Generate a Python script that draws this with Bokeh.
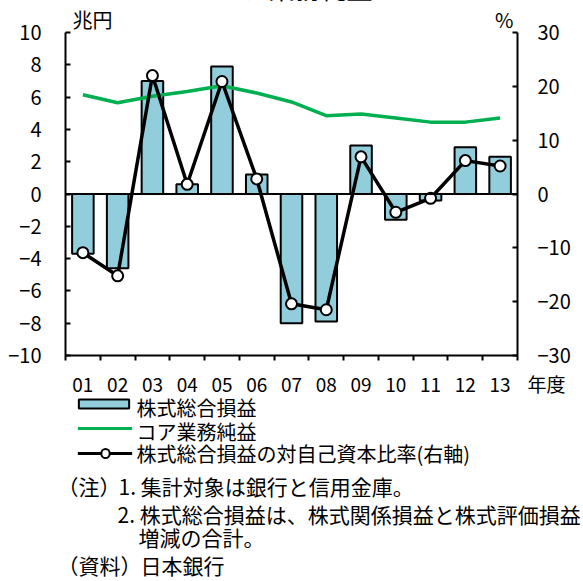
from bokeh.plotting import figure
from bokeh.models import (Range1d, LinearAxis, FixedTicker, Span, Label)
from bokeh.embed import file_html
from bokeh.resources import INLINE

# ---- data ----
years = ["01", "02", "03", "04", "05", "06", "07", "08", "09", "10", "11", "12", "13"]
stock_pl = [-3.7, -4.6, 7.0, 0.6, 7.9, 1.2, -8.0, -7.9, 3.0, -1.6, -0.4, 2.9, 2.3]      # 兆円
core_profit = [6.15, 5.65, 6.05, 6.35, 6.7, 6.25, 5.7, 4.85, 4.95, 4.7, 4.45, 4.45, 4.7]  # 兆円
ratio_pct = [-10.9, -15.2, 22.0, 1.8, 20.9, 2.8, -20.4, -21.5, 6.9, -3.4, -0.8, 6.2, 5.2]  # %
left_ticks = [-10, -8, -6, -4, -2, 0, 2, 4, 6, 8, 10]
right_ticks = [-30, -20, -10, 0, 10, 20, 30]
legend_labels = ["株式総合損益", "コア業務純益", "株式総合損益の対自己資本比率(右軸)"]

FONT = "Noto Sans CJK JP"
BAR_COLOR = "#92CDDC"
GREEN = "#00B050"

n = len(years)
xc = [i + 0.5 for i in range(n)]

W, H = 583, 581
FL, FT, FW, FH = 65, 32, 452, 323  # frame in figure px

p = figure(width=W, height=H, output_backend="svg", toolbar_location=None,
           x_range=Range1d(0, n), y_range=Range1d(-10, 10),
           frame_width=FW, frame_height=FH,
           min_border_left=FL, min_border_top=FT,
           min_border_right=W - FL - FW, min_border_bottom=H - FT - FH)
p.outline_line_color = None
p.xgrid.visible = False
p.ygrid.visible = False
p.extra_y_ranges = {"pct": Range1d(-30, 30)}

def dx(px):
    return (px - FL) / FW * n

def dy(py):
    return 10 - (py - FT) / FH * 20

def minus(v):
    return str(v).replace("-", "\u2212")

ya = p.yaxis[0]
ya.ticker = FixedTicker(ticks=left_ticks)
ya.major_label_overrides = {t: minus(t) for t in left_ticks}
ya.major_tick_in = 5
ya.major_tick_out = 0
ya.minor_tick_line_color = None
ya.axis_line_width = 2
ya.major_tick_line_width = 2
ya.major_label_standoff = 24
ya.major_label_text_font = FONT
ya.major_label_text_font_size = "20px"
ya.major_label_text_color = "black"

ra = LinearAxis(y_range_name="pct", ticker=FixedTicker(ticks=right_ticks))
ra.major_label_overrides = {t: minus(t) for t in right_ticks}
ra.major_tick_in = 5
ra.major_tick_out = 0
ra.minor_tick_line_color = None
ra.axis_line_width = 2
ra.major_tick_line_width = 2
ra.major_label_standoff = 20
ra.major_label_text_font = FONT
ra.major_label_text_font_size = "20px"
ra.major_label_text_color = "black"
p.add_layout(ra, "right")

xa = p.xaxis[0]
xa.ticker = FixedTicker(ticks=list(range(n + 1)))
xa.major_tick_in = 0
xa.major_tick_out = 5
xa.minor_tick_line_color = None
xa.axis_line_width = 2
xa.major_tick_line_width = 2
xa.major_label_text_font_size = "0px"
xa.major_label_standoff = 0

xb = LinearAxis(ticker=FixedTicker(ticks=xc))
xb.major_label_overrides = {c: y for c, y in zip(xc, years)}
xb.axis_line_color = None
xb.major_tick_line_color = None
xb.minor_tick_line_color = None
xb.major_tick_in = 0
xb.major_tick_out = 0
xb.major_label_standoff = 17
xb.major_label_text_font = FONT
xb.major_label_text_font_size = "19px"
xb.major_label_text_color = "black"
p.add_layout(xb, "below")

p.add_layout(Span(location=0, dimension="width", line_color="black", line_width=2))

bars = p.vbar(x=xc, top=stock_pl, bottom=0, width=0.62, fill_color=BAR_COLOR,
              line_color="black", line_width=2)
gl = p.line(x=xc, y=core_profit, line_color=GREEN, line_width=3.5)
bl = p.line(x=xc, y=ratio_pct, y_range_name="pct", line_color="black", line_width=3.5)
bm = p.scatter(x=xc, y=ratio_pct, y_range_name="pct", size=11, fill_color="white",
               line_color="black", line_width=2)

# annotations placed in a side panel are not clipped to the frame
def add_text(t, px, py, size="21px", align="left"):
    p.add_layout(Label(x=dx(px), y=dy(py), text=t, text_font=FONT,
                       text_font_size=size, text_align=align,
                       text_baseline="middle", text_color="black"), "right")

def add_key(cx, cy, pad, fill, line_color=None, line_width=0, radius=0):
    p.add_layout(Label(x=dx(cx), y=dy(cy), text=" ", text_font_size="1px",
                       text_align="center", text_baseline="middle",
                       padding=pad, background_fill_color=fill,
                       border_line_color=line_color, border_line_width=line_width,
                       border_radius=radius), "right")

# legend keys (padding = (horizontal, vertical))
add_key(103.5, 403.5, (25, 4), BAR_COLOR, "black", 2)
add_key(104.5, 428, (27, 1), GREEN)
add_key(104.5, 453, (27, 1), "black")
add_key(105, 453, (4, 4), "white", "black", 2, 6)

add_text(legend_labels[0], 136, 407, size="20px")
add_text(legend_labels[1], 136, 431, size="20px")
add_text(legend_labels[2], 136, 453, size="20px")

add_text("コア業務純益", 216, -13, size="26px")
add_text("兆円", 72, 19, size="20px")
add_text("%", 513, 19, size="20px", align="right")
add_text("年度", 527, 383, size="19px")
add_text("（注）", 57, 485)
add_text("1. 集計対象は銀行と信用金庫。", 118, 485)
add_text("2. 株式総合損益は、株式関係損益と株式評価損益", 117, 513)
add_text("増減の合計。", 138, 536)
add_text("（資料）", 57, 564)
add_text("日本銀行", 140, 564)

open("out.html", "w").write(file_html(p, INLINE))
